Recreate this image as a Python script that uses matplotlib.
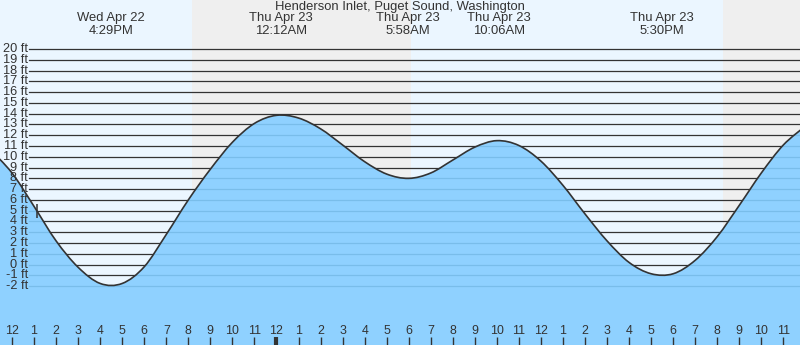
import matplotlib
matplotlib.use("Agg")
import matplotlib.pyplot as plt
import matplotlib.transforms as mtransforms
from matplotlib.path import Path
from matplotlib.patches import PathPatch
import numpy as np

plt.rcParams['font.family'] = ['Liberation Sans', 'DejaVu Sans']

title = "Henderson Inlet, Puget Sound, Washington"

# hourly tide heights (ft), hours counted from noon Wed Apr 22
hours = list(range(-1, 37))
heights = [10.7, 8.5, 5.4, 2.2, -0.25, -1.75, -1.75, -0.2, 2.8, 6.0,
           8.85, 11.35, 13.1, 13.85, 13.6, 12.6, 11.1, 9.55, 8.4, 8.0,
           8.5, 9.7, 10.9, 11.5, 11.05, 9.6, 7.35, 4.7, 2.2, 0.2,
           -0.85, -0.85, 0.4, 2.6, 5.5, 8.5, 11.1, 12.85]

# high / low tide events
event_days = ["Wed Apr 22", "Thu Apr 23", "Thu Apr 23", "Thu Apr 23", "Thu Apr 23"]
event_times = ["4:29PM", "12:12AM", "5:58AM", "10:06AM", "5:30PM"]

# night shading (hours from noon Wed)
night_start = [8.17, 32.26]
night_end = [18.10, 36.5]

ft_levels = list(range(-2, 21))
now_hour = 1.13
now_height = 5.0

x_min, x_max = -0.545, 35.755
y_min, y_max = -7.46, 24.55

day_bg = "#ebf6ff"
night_bg = "#efefef"
water = "#8fd1ff"
water_line = "#79bdea"
ink = "#333333"


def event_hour(day, t):
    # hours after noon on the 22nd
    d = int(day.split()[-1]) - 22
    hm, ampm = t[:-2], t[-2:]
    h, m = [int(v) for v in hm.split(":")]
    h = h % 12 + (12 if ampm == "PM" else 0)
    return d * 24 + h + m / 60.0 - 12


def smooth_path(xs, ys):
    # Catmull-Rom through the points, as cubic bezier segments
    pts = np.column_stack([xs, ys]).astype(float)
    pts = np.vstack([pts[0], pts, pts[-1]])
    verts = [pts[1]]
    codes = [Path.MOVETO]
    for i in range(1, len(pts) - 2):
        p0, p1, p2, p3 = pts[i - 1], pts[i], pts[i + 1], pts[i + 2]
        verts += [p1 + (p2 - p0) / 6.0, p2 - (p3 - p1) / 6.0, p2]
        codes += [Path.CURVE4] * 3
    return verts, codes


fig = plt.figure(figsize=(8, 3.45), dpi=100)
ax = fig.add_axes([0, 0, 1, 1])
ax.set_xlim(x_min, x_max)
ax.set_ylim(y_min, y_max)
ax.axis("off")
ax.add_patch(plt.Rectangle((0, 0), 1, 1, transform=ax.transAxes,
                           color=day_bg, zorder=0))
for s, e in zip(night_start, night_end):
    ax.axvspan(s, e, color=night_bg, lw=0, zorder=0.5)

trans = mtransforms.blended_transform_factory(ax.transAxes, ax.transData)
for lv in ft_levels:
    ax.axhline(lv, xmin=29 / 800, xmax=1, color=ink, lw=0.9, zorder=1)
    ax.text(28 / 800, lv, "%d ft" % lv, transform=trans, ha="right",
            va="center", fontsize=9.2, color=ink, zorder=10)

verts, codes = smooth_path(hours, heights)
curve = Path(verts, codes)
fill_verts = verts + [(hours[-1], y_min - 5), (hours[0], y_min - 5), verts[0]]
fill_codes = codes + [Path.LINETO, Path.LINETO, Path.CLOSEPOLY]
sea = PathPatch(Path(fill_verts, fill_codes), facecolor=water,
                edgecolor="none", zorder=2)
ax.add_patch(sea)
for lv in ft_levels:
    ln = ax.axhline(lv, xmin=29 / 800, xmax=1, color=water_line, lw=0.9,
                    zorder=3)
    ln.set_clip_path(sea)
ax.add_patch(PathPatch(curve, facecolor="none", edgecolor=ink, lw=1.2,
                       zorder=4))

ax.plot([now_hour], [now_height], marker="|", ms=10, mew=1.1,
        color=ink, zorder=5)

# hour ticks along the bottom
tb = mtransforms.blended_transform_factory(ax.transData, ax.transAxes)
for h in range(0, 36):
    lab = str(h % 12 if h % 12 else 12)
    ax.text(h, 1 - 331 / 345, lab, transform=tb, ha="center", va="center",
            fontsize=8.9, color=ink, zorder=10)
    ax.vlines(h, 0, 8 / 345, transform=tb, color=ink,
              lw=3 if h == 12 else 1, zorder=10)

ax.text(0.5, 1 - 7 / 345, title, transform=ax.transAxes, ha="center",
        va="center", fontsize=9.4, color=ink, zorder=10)
for d, t in zip(event_days, event_times):
    h = event_hour(d, t)
    ax.text(h, 1 - 18 / 345, d, transform=tb, ha="center", va="center",
            fontsize=9.4, color=ink, zorder=10)
    ax.text(h, 1 - 31 / 345, t, transform=tb, ha="center", va="center",
            fontsize=9.4, color=ink, zorder=10)

fig.savefig("out.png", dpi=100)
